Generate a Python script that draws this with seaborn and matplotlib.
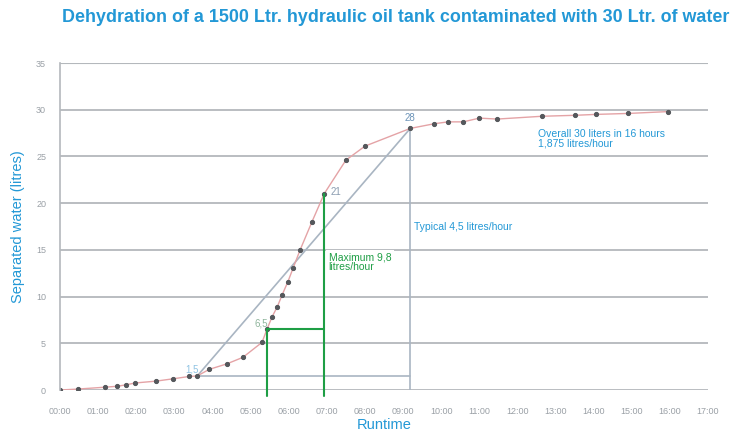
import matplotlib.pyplot as plt
import seaborn as sns
import pandas as pd

# data (hours since start, litres separated)
hours = [0.0, 0.47, 1.18, 1.5, 1.73, 1.97, 2.52, 2.97, 3.39, 3.6, 3.91, 4.38, 4.8,
         5.3, 5.43, 5.56, 5.7, 5.83, 5.98, 6.12, 6.3, 6.61, 6.93, 7.5, 8.0, 9.19,
         9.82, 10.18, 10.58, 11.0, 11.47, 12.65, 13.5, 14.07, 14.9, 15.96]
litres = [0.0, 0.1, 0.3, 0.4, 0.55, 0.75, 0.95, 1.2, 1.45, 1.5, 2.2, 2.8, 3.5,
          5.1, 6.5, 7.8, 8.9, 10.2, 11.6, 13.1, 15.0, 18.0, 21.0, 24.6, 26.1, 28.0,
          28.5, 28.7, 28.7, 29.1, 29.0, 29.3, 29.4, 29.5, 29.6, 29.8]
tick_labels = ["00:00", "01:00", "02:00", "03:00", "04:00", "05:00", "06:00",
               "07:00", "08:00", "09:00", "10:00", "11:00", "12:00", "13:00",
               "14:00", "15:00", "16:00", "17:00"]
y_ticks = [0, 5, 10, 15, 20, 25, 30, 35]

# marked points
typ_start = (3.6, 1.5)
typ_end = (9.19, 28.0)
max_start = (5.43, 6.5)
max_end = (6.93, 21.0)

blue = "#2398d6"
green = "#1e9e45"
grid_c = "#b4b8bc"

sns.set_style("white")
plt.rcParams['font.family'] = ['Liberation Sans', 'DejaVu Sans']

df = pd.DataFrame({"time": hours, "water": litres})

fig = plt.figure(figsize=(7.38, 4.36), dpi=100)
ax = fig.add_axes([60 / 738, 46 / 436, 648 / 738, 327 / 436])

for v in y_ticks:
    ax.axhline(v, color=grid_c, lw=1.3 if v < 35 else 0.8, zorder=0)

# typical rate triangle
ax.plot([typ_start[0], typ_end[0]], [typ_start[1], typ_end[1]], color="#a9b5c2", lw=1.2, zorder=1)
ax.plot([typ_start[0], typ_end[0]], [typ_start[1], typ_start[1]], color="#a9b5c2", lw=1.2, zorder=1)
ax.plot([typ_end[0], typ_end[0]], [typ_end[1], -0.3], color="#a9b5c2", lw=1.2, zorder=1)

# maximum rate lines
ax.plot([max_start[0], max_start[0]], [max_start[1], -0.6], color=green, lw=1.5, zorder=3, clip_on=False)
ax.plot([max_start[0], max_end[0]], [max_start[1], max_start[1]], color=green, lw=1.5, zorder=3)
ax.plot([max_end[0], max_end[0]], [max_end[1], -0.6], color=green, lw=1.5, zorder=3, clip_on=False)

sns.lineplot(data=df, x="time", y="water", ax=ax, color="#e4a3a6", lw=1.0,
             marker="o", markersize=3, markerfacecolor="#55585c",
             markeredgecolor="#55585c", zorder=2)

# point labels
ax.text(3.3, 1.9, "1,5", color="#8fc3e3", fontsize=7)
ax.text(5.1, 6.8, "6,5", color="#8fb59c", fontsize=7)
ax.text(7.1, 20.9, "21", color="#8a9cb0", fontsize=7)
ax.text(9.05, 28.8, "28", color="#6b93b8", fontsize=7)

ax.text(9.3, 17.1, "Typical 4,5 litres/hour", color=blue, fontsize=7.5,
        bbox=dict(facecolor="white", edgecolor="none", pad=2))
ax.text(7.05, 12.8, "Maximum 9,8\nlitres/hour", color=green, fontsize=7.5,
        linespacing=0.95, bbox=dict(facecolor="white", edgecolor="none", pad=2))
ax.text(12.55, 26.1, "Overall 30 liters in 16 hours\n1,875 litres/hour", color=blue,
        fontsize=7.5, linespacing=0.95,
        bbox=dict(facecolor="white", edgecolor="none", pad=3))

ax.set_xlim(0, 17)
ax.set_ylim(0, 35)
ax.set_xticks(range(len(tick_labels)))
ax.set_xticklabels(tick_labels, fontsize=6.5, color="#9aa0a6")
ax.set_yticks(y_ticks)
ax.set_yticklabels([str(v) for v in y_ticks], fontsize=6.5, color="#9aa0a6")
ax.tick_params(axis="x", length=0, pad=12)
ax.tick_params(axis="y", length=0, pad=10)
for s in ["top", "right", "bottom"]:
    ax.spines[s].set_visible(False)
ax.spines["left"].set_color(grid_c)
ax.spines["left"].set_linewidth(1.2)

ax.set_xlabel("Runtime", color=blue, fontsize=10.5, labelpad=2)
ax.set_ylabel("Separated water (litres)", color=blue, fontsize=10.5, labelpad=8)

fig.text(396 / 738, 1 - 17 / 436, "Dehydration of a 1500 Ltr. hydraulic oil tank contaminated with 30 Ltr. of water",
         color=blue, fontsize=12.9, fontweight="bold", ha="center", va="center")

fig.savefig("out.png", dpi=100)
